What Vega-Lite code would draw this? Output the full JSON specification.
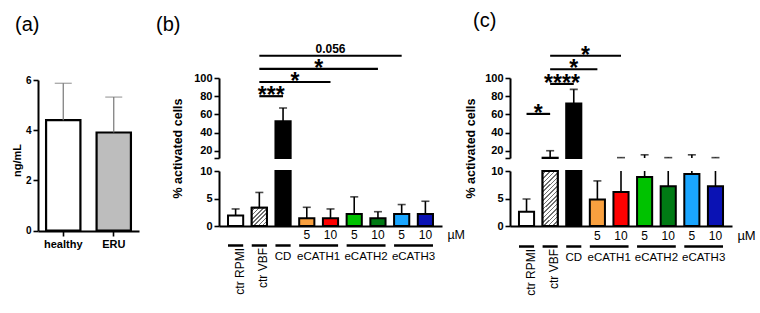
{
  "$schema": "https://vega.github.io/schema/vega-lite/v6.json",
  "background": "white",
  "padding": {"left": 11, "top": 10, "right": 0, "bottom": 0},
  "config": {
    "view": {"stroke": null},
    "font": "Liberation Sans",
    "axis": {"domainColor": "#000", "domainWidth": 2, "tickColor": "#000", "tickWidth": 1.6, "tickSize": 5, "labelColor": "#000", "labelFontWeight": "bold", "labelOverlap": false, "titleColor": "#000", "titleFontWeight": "bold", "grid": false},
    "axisX": {"ticks": false, "labels": false},
    "title": {"fontSize": 20, "fontWeight": "normal", "anchor": "start", "frame": "group", "baseline": "alphabetic", "color": "#000"}
  },
  "resolve": {"scale": {"fill": "independent"}},
  "datasets": {
    "a": [{"grp": "healthy", "mean": 4.4, "err": 5.87}, {"grp": "ERU", "mean": 3.91, "err": 5.32}],
    "b": [
      {"cat": "ctr RPMI", "mean": 1.9, "err": 3.1},
      {"cat": "ctr VBF", "mean": 3.3, "err": 6.1},
      {"cat": "CD", "mean": 52.3, "err": 67},
      {"cat": "eCATH1 5", "mean": 1.4, "err": 3.4},
      {"cat": "eCATH1 10", "mean": 1.4, "err": 3.1},
      {"cat": "eCATH2 5", "mean": 2.2, "err": 5.3},
      {"cat": "eCATH2 10", "mean": 1.4, "err": 2.6},
      {"cat": "eCATH3 5", "mean": 2.2, "err": 3.9},
      {"cat": "eCATH3 10", "mean": 2.2, "err": 4.5}
    ],
    "c": [
      {"cat": "ctr RPMI", "mean": 2.6, "err": 4.9},
      {"cat": "ctr VBF", "mean": 12.3, "err": 20},
      {"cat": "CD", "mean": 72, "err": 87.5},
      {"cat": "eCATH1 5", "mean": 4.8, "err": 8.2},
      {"cat": "eCATH1 10", "mean": 6.2, "err": 12.4},
      {"cat": "eCATH2 5", "mean": 8.9, "err": 15.5},
      {"cat": "eCATH2 10", "mean": 7.25, "err": 12.4},
      {"cat": "eCATH3 5", "mean": 9.45, "err": 15.5},
      {"cat": "eCATH3 10", "mean": 7.25, "err": 12.4}
    ],
    "bb": [
      {"from": "ctr VBF", "to": "CD", "level": 80, "label": "***", "anchor": "ctr VBF", "pos": "half"},
      {"from": "ctr VBF", "to": "eCATH1 10", "level": 95.6, "label": "*", "anchor": "CD", "pos": "half"},
      {"from": "ctr VBF", "to": "eCATH2 10", "level": 110, "label": "*", "anchor": "eCATH1 5", "pos": "half"},
      {"from": "ctr VBF", "to": "eCATH3 5", "level": 124.5, "label": "0.056", "anchor": "eCATH1 10", "pos": "centerp"}
    ],
    "cb": [
      {"from": "ctr RPMI", "to": "ctr VBF", "level": 60.5, "label": "*", "anchor": "ctr RPMI", "pos": "half"},
      {"from": "ctr VBF", "to": "CD", "level": 93.5, "label": "****", "anchor": "ctr VBF", "pos": "half"},
      {"from": "ctr VBF", "to": "eCATH1 5", "level": 109.6, "label": "*", "anchor": "CD", "pos": "centerstar"},
      {"from": "ctr VBF", "to": "eCATH1 10", "level": 124.5, "label": "*", "anchor": "CD", "pos": "half"}
    ],
    "grp": [
      {"first": "ctr RPMI", "last": "ctr RPMI", "name": "ctr RPMI", "kind": "rot"},
      {"first": "ctr VBF", "last": "ctr VBF", "name": "ctr VBF", "kind": "rot"},
      {"first": "CD", "last": "CD", "name": "CD", "kind": "single"},
      {"first": "eCATH1 5", "last": "eCATH1 10", "name": "eCATH1", "kind": "pair"},
      {"first": "eCATH2 5", "last": "eCATH2 10", "name": "eCATH2", "kind": "pair"},
      {"first": "eCATH3 5", "last": "eCATH3 10", "name": "eCATH3", "kind": "pair"}
    ],
    "dose": [
      {"cat": "eCATH1 5", "label": "5"}, {"cat": "eCATH1 10", "label": "10"},
      {"cat": "eCATH2 5", "label": "5"}, {"cat": "eCATH2 10", "label": "10"},
      {"cat": "eCATH3 5", "label": "5"}, {"cat": "eCATH3 10", "label": "10"}
    ],
    "unit": [{"cat": "eCATH3 10", "label": "µM"}]
  },
  "spacing": 68,
  "bounds": "flush",
  "hconcat": [
    {
      "width": 113,
      "height": 183,
      "title": {"text": "(a)", "offset": 8, "dx": -23},
      "data": {"name": "a"},
      "encoding": {
        "x": {"field": "grp", "type": "nominal", "title": null,
          "scale": {"domain": ["healthy", "ERU"], "range": [0, 101], "paddingInner": 0.32, "paddingOuter": 0.16},
          "axis": {"ticks": true, "labels": true, "labelAngle": 0, "labelFontSize": 11, "labelPadding": 2, "offset": 5, "tickSize": 5}}
      },
      "layer": [
        {"mark": {"type": "bar", "stroke": "#000", "strokeWidth": 2.2},
          "encoding": {
            "y": {"field": "mean", "type": "quantitative", "scale": {"domain": [0, 6], "range": [187.7, 37]},
              "axis": {"values": [0, 2, 4, 6], "tickCount": 20, "format": "d", "labelOverlap": false, "title": "ng/mL", "labelFontSize": 10, "labelPadding": 2, "titleFontSize": 11, "titlePadding": 3, "titleY": 117}},
            "fill": {"field": "grp", "type": "nominal", "scale": {"domain": ["healthy", "ERU"], "range": ["#ffffff", "#bdbdbd"]}, "legend": null}
          }},
        {"mark": {"type": "rule", "color": "#777777", "strokeWidth": 1.2},
          "encoding": {"y": {"field": "mean", "type": "quantitative", "scale": {"domain": [0, 6], "range": [187.7, 37]}}, "y2": {"field": "err"}}},
        {"mark": {"type": "tick", "color": "#777777", "thickness": 1.2, "size": 17},
          "encoding": {"y": {"field": "err", "type": "quantitative", "scale": {"domain": [0, 6], "range": [187.7, 37]}}}}
      ]
    },
    {
      "width": 223,
      "height": 183,
      "title": {"text": "(b)", "offset": 8, "dx": -63},
      "resolve": {"scale": {"y": "independent"}, "axis": {"y": "independent"}},
      "layer": [
        {
          "data": {"name": "b"},
          "layer": [
            {"mark": {"type": "bar", "stroke": "#000", "strokeWidth": 2},
              "encoding": {
                "x": {"field": "cat", "type": "nominal", "title": null, "scale": {"domain": ["ctr RPMI", "ctr VBF", "CD", "eCATH1 5", "eCATH1 10", "eCATH2 5", "eCATH2 10", "eCATH3 5", "eCATH3 10"], "paddingInner": 0.36, "paddingOuter": 0.38}},
                "y": {"field": "mean", "type": "quantitative", "scale": {"domain": [0, 10], "range": [183, 128], "clamp": true},
                  "axis": {"orient": "left", "values": [0, 5, 10], "tickCount": 20, "format": "d", "labelOverlap": false, "title": null, "labelFontSize": 11, "labelPadding": 2}},
                "fill": {"field": "cat", "type": "nominal", "scale": {"domain": ["ctr RPMI", "ctr VBF", "CD", "eCATH1 5", "eCATH1 10", "eCATH2 5", "eCATH2 10", "eCATH3 5", "eCATH3 10"], "range": ["#ffffff", "#ffffff", "#000000", "#f9a03f", "#ff0000", "#00c200", "#007a14", "#1aa6ff", "#0a12b4"]}, "legend": null}
              }},
            {"transform": [{"filter": "datum.cat == 'ctr VBF'"}],
              "mark": {"type": "bar", "stroke": "#000", "strokeWidth": 2,
                "fill": {"gradient": "linear", "x1": 0, "y1": 0, "x2": 0.903, "y2": 1.081, "stops": [
                  {"offset": 0, "color": "#ffffff"}, {"offset": 0.0813, "color": "#ffffff"}, {"offset": 0.0813, "color": "#707070"}, {"offset": 0.125, "color": "#707070"},
                  {"offset": 0.125, "color": "#ffffff"}, {"offset": 0.2063, "color": "#ffffff"}, {"offset": 0.2063, "color": "#707070"}, {"offset": 0.25, "color": "#707070"},
                  {"offset": 0.25, "color": "#ffffff"}, {"offset": 0.3313, "color": "#ffffff"}, {"offset": 0.3313, "color": "#707070"}, {"offset": 0.375, "color": "#707070"},
                  {"offset": 0.375, "color": "#ffffff"}, {"offset": 0.4563, "color": "#ffffff"}, {"offset": 0.4563, "color": "#707070"}, {"offset": 0.5, "color": "#707070"},
                  {"offset": 0.5, "color": "#ffffff"}, {"offset": 0.5813, "color": "#ffffff"}, {"offset": 0.5813, "color": "#707070"}, {"offset": 0.625, "color": "#707070"},
                  {"offset": 0.625, "color": "#ffffff"}, {"offset": 0.7063, "color": "#ffffff"}, {"offset": 0.7063, "color": "#707070"}, {"offset": 0.75, "color": "#707070"},
                  {"offset": 0.75, "color": "#ffffff"}, {"offset": 0.8313, "color": "#ffffff"}, {"offset": 0.8313, "color": "#707070"}, {"offset": 0.875, "color": "#707070"},
                  {"offset": 0.875, "color": "#ffffff"}, {"offset": 0.9563, "color": "#ffffff"}, {"offset": 0.9563, "color": "#707070"}, {"offset": 1, "color": "#707070"}]}},
              "encoding": {
                "x": {"field": "cat", "type": "nominal", "title": null, "scale": {"domain": ["ctr RPMI", "ctr VBF", "CD", "eCATH1 5", "eCATH1 10", "eCATH2 5", "eCATH2 10", "eCATH3 5", "eCATH3 10"], "paddingInner": 0.36, "paddingOuter": 0.38}},
                "y": {"field": "mean", "type": "quantitative", "scale": {"domain": [0, 10], "range": [183, 128], "clamp": true}}
              }},
            {"mark": {"type": "rule", "color": "#000", "strokeWidth": 1.6},
              "encoding": {
                "x": {"field": "cat", "type": "nominal", "title": null, "scale": {"domain": ["ctr RPMI", "ctr VBF", "CD", "eCATH1 5", "eCATH1 10", "eCATH2 5", "eCATH2 10", "eCATH3 5", "eCATH3 10"], "paddingInner": 0.36, "paddingOuter": 0.38}},
                "y": {"field": "mean", "type": "quantitative", "scale": {"domain": [0, 10], "range": [183, 128], "clamp": true}},
                "y2": {"field": "err"}
              }},
            {"transform": [{"filter": "datum.err <= 10"}],
              "mark": {"type": "tick", "color": "#000", "thickness": 1.6, "size": 8},
              "encoding": {
                "x": {"field": "cat", "type": "nominal", "title": null, "scale": {"domain": ["ctr RPMI", "ctr VBF", "CD", "eCATH1 5", "eCATH1 10", "eCATH2 5", "eCATH2 10", "eCATH3 5", "eCATH3 10"], "paddingInner": 0.36, "paddingOuter": 0.38}},
                "y": {"field": "err", "type": "quantitative", "scale": {"domain": [0, 10], "range": [183, 128], "clamp": true}}
              }}
          ]
        },
        {
          "layer": [
            {"data": {"name": "b"}, "transform": [{"filter": "datum.mean > 12"}],
              "mark": {"type": "bar", "stroke": "#000", "strokeWidth": 2},
              "encoding": {
                "x": {"field": "cat", "type": "nominal", "title": null, "scale": {"domain": ["ctr RPMI", "ctr VBF", "CD", "eCATH1 5", "eCATH1 10", "eCATH2 5", "eCATH2 10", "eCATH3 5", "eCATH3 10"], "paddingInner": 0.36, "paddingOuter": 0.38}},
                "y": {"field": "mean", "type": "quantitative", "scale": {"domain": [12, 100], "range": [115, 35]},
                  "axis": {"orient": "left", "values": [12, 20, 40, 60, 80, 100], "tickCount": 20, "format": "d", "labelOverlap": false, "labelExpr": "datum.value == 12 ? '' : datum.label", "labelFontSize": 11, "labelPadding": 2, "title": "% activated cells", "titleFontSize": 12.5, "titlePadding": 9, "titleY": 105}},
                "y2": {"datum": 12},
                "fill": {"field": "cat", "type": "nominal", "scale": {"domain": ["ctr RPMI", "ctr VBF", "CD", "eCATH1 5", "eCATH1 10", "eCATH2 5", "eCATH2 10", "eCATH3 5", "eCATH3 10"], "range": ["#ffffff", "#ffffff", "#000000", "#f9a03f", "#ff0000", "#00c200", "#007a14", "#1aa6ff", "#0a12b4"]}, "legend": null}
              }},
            {"data": {"name": "b"}, "transform": [{"filter": "datum.err > 12"}],
              "mark": {"type": "rule", "color": "#000", "strokeWidth": 1.6},
              "encoding": {
                "x": {"field": "cat", "type": "nominal", "title": null, "scale": {"domain": ["ctr RPMI", "ctr VBF", "CD", "eCATH1 5", "eCATH1 10", "eCATH2 5", "eCATH2 10", "eCATH3 5", "eCATH3 10"], "paddingInner": 0.36, "paddingOuter": 0.38}},
                "y": {"field": "err", "type": "quantitative", "scale": {"domain": [12, 100], "range": [115, 35]}},
                "y2": {"datum": 12}
              }},
            {"data": {"name": "b"}, "transform": [{"filter": "datum.err > 12"}],
              "mark": {"type": "tick", "color": "#000", "thickness": 1.6, "size": 8},
              "encoding": {
                "x": {"field": "cat", "type": "nominal", "title": null, "scale": {"domain": ["ctr RPMI", "ctr VBF", "CD", "eCATH1 5", "eCATH1 10", "eCATH2 5", "eCATH2 10", "eCATH3 5", "eCATH3 10"], "paddingInner": 0.36, "paddingOuter": 0.38}},
                "y": {"field": "err", "type": "quantitative", "scale": {"domain": [12, 100], "range": [115, 35]}}
              }},
            {"data": {"name": "bb"},
              "mark": {"type": "rule", "color": "#000", "strokeWidth": 2.2},
              "encoding": {
                "x": {"field": "from", "type": "nominal", "title": null, "scale": {"domain": ["ctr RPMI", "ctr VBF", "CD", "eCATH1 5", "eCATH1 10", "eCATH2 5", "eCATH2 10", "eCATH3 5", "eCATH3 10"], "paddingInner": 0.36, "paddingOuter": 0.38}},
                "x2": {"field": "to"},
                "y": {"field": "level", "type": "quantitative", "scale": {"domain": [12, 100], "range": [115, 35]}}
              }},
            {"data": {"name": "bb"}, "transform": [{"filter": "datum.pos == 'half'"}],
              "mark": {"type": "text", "color": "#000", "fontSize": 23, "fontWeight": "bold", "baseline": "middle", "align": "center"},
              "encoding": {
                "x": {"field": "anchor", "type": "nominal", "title": null, "bandPosition": 1.28125, "scale": {"domain": ["ctr RPMI", "ctr VBF", "CD", "eCATH1 5", "eCATH1 10", "eCATH2 5", "eCATH2 10", "eCATH3 5", "eCATH3 10"], "paddingInner": 0.36, "paddingOuter": 0.38}},
                "y": {"field": "level", "type": "quantitative", "scale": {"domain": [12, 100], "range": [115, 35]}},
                "text": {"field": "label"}
              }},
            {"data": {"name": "bb"}, "transform": [{"filter": "datum.pos == 'centerp'"}],
              "mark": {"type": "text", "color": "#000", "fontSize": 12, "fontWeight": "bold", "baseline": "alphabetic", "align": "center", "dy": -2.5},
              "encoding": {
                "x": {"field": "anchor", "type": "nominal", "title": null, "scale": {"domain": ["ctr RPMI", "ctr VBF", "CD", "eCATH1 5", "eCATH1 10", "eCATH2 5", "eCATH2 10", "eCATH3 5", "eCATH3 10"], "paddingInner": 0.36, "paddingOuter": 0.38}},
                "y": {"field": "level", "type": "quantitative", "scale": {"domain": [12, 100], "range": [115, 35]}},
                "text": {"field": "label"}
              }}
          ]
        },
        {
          "layer": [
            {"data": {"name": "dose"},
              "mark": {"type": "text", "color": "#000", "fontSize": 12, "baseline": "middle", "align": "center"},
              "encoding": {
                "x": {"field": "cat", "type": "nominal", "title": null, "scale": {"domain": ["ctr RPMI", "ctr VBF", "CD", "eCATH1 5", "eCATH1 10", "eCATH2 5", "eCATH2 10", "eCATH3 5", "eCATH3 10"], "paddingInner": 0.36, "paddingOuter": 0.38}},
                "y": {"datum": "dose", "type": "ordinal", "scale": {"type": "point", "domain": ["dose", "line", "group"], "range": [191.5, 213.5], "padding": 0}, "axis": null},
                "text": {"field": "label"}
              }},
            {"data": {"name": "unit"},
              "mark": {"type": "text", "color": "#000", "fontSize": 12.5, "baseline": "middle", "align": "left"},
              "encoding": {
                "x": {"field": "cat", "type": "nominal", "title": null, "bandPosition": 1.95, "scale": {"domain": ["ctr RPMI", "ctr VBF", "CD", "eCATH1 5", "eCATH1 10", "eCATH2 5", "eCATH2 10", "eCATH3 5", "eCATH3 10"], "paddingInner": 0.36, "paddingOuter": 0.38}},
                "y": {"datum": "dose", "type": "ordinal", "scale": {"type": "point", "domain": ["dose", "line", "group"], "range": [191.5, 213.5], "padding": 0}, "axis": null},
                "text": {"field": "label"}
              }},
            {"data": {"name": "grp"},
              "mark": {"type": "rule", "color": "#000", "strokeWidth": 2.5},
              "encoding": {
                "x": {"field": "first", "type": "nominal", "title": null, "bandPosition": 0, "scale": {"domain": ["ctr RPMI", "ctr VBF", "CD", "eCATH1 5", "eCATH1 10", "eCATH2 5", "eCATH2 10", "eCATH3 5", "eCATH3 10"], "paddingInner": 0.36, "paddingOuter": 0.38}},
                "x2": {"field": "last", "bandPosition": 1},
                "y": {"datum": "line", "type": "ordinal", "scale": {"type": "point", "domain": ["dose", "line", "group"], "range": [191.5, 213.5], "padding": 0}, "axis": null}
              }},
            {"data": {"name": "grp"}, "transform": [{"filter": "datum.kind == 'pair'"}],
              "mark": {"type": "text", "color": "#000", "fontSize": 11.5, "baseline": "middle", "align": "center"},
              "encoding": {
                "x": {"field": "first", "type": "nominal", "title": null, "bandPosition": 1.28125, "scale": {"domain": ["ctr RPMI", "ctr VBF", "CD", "eCATH1 5", "eCATH1 10", "eCATH2 5", "eCATH2 10", "eCATH3 5", "eCATH3 10"], "paddingInner": 0.36, "paddingOuter": 0.38}},
                "y": {"datum": "group", "type": "ordinal", "scale": {"type": "point", "domain": ["dose", "line", "group"], "range": [191.5, 213.5], "padding": 0}, "axis": null},
                "text": {"field": "name"}
              }},
            {"data": {"name": "grp"}, "transform": [{"filter": "datum.kind == 'single'"}],
              "mark": {"type": "text", "color": "#000", "fontSize": 11.5, "baseline": "middle", "align": "center"},
              "encoding": {
                "x": {"field": "first", "type": "nominal", "title": null, "scale": {"domain": ["ctr RPMI", "ctr VBF", "CD", "eCATH1 5", "eCATH1 10", "eCATH2 5", "eCATH2 10", "eCATH3 5", "eCATH3 10"], "paddingInner": 0.36, "paddingOuter": 0.38}},
                "y": {"datum": "group", "type": "ordinal", "scale": {"type": "point", "domain": ["dose", "line", "group"], "range": [191.5, 213.5], "padding": 0}, "axis": null},
                "text": {"field": "name"}
              }},
            {"data": {"name": "grp"}, "transform": [{"filter": "datum.kind == 'rot'"}],
              "mark": {"type": "text", "color": "#000", "fontSize": 12, "angle": 270, "baseline": "middle", "align": "right", "dx": -2.5, "dy": 4},
              "encoding": {
                "x": {"field": "first", "type": "nominal", "title": null, "scale": {"domain": ["ctr RPMI", "ctr VBF", "CD", "eCATH1 5", "eCATH1 10", "eCATH2 5", "eCATH2 10", "eCATH3 5", "eCATH3 10"], "paddingInner": 0.36, "paddingOuter": 0.38}},
                "y": {"datum": "line", "type": "ordinal", "scale": {"type": "point", "domain": ["dose", "line", "group"], "range": [191.5, 213.5], "padding": 0}, "axis": null},
                "text": {"field": "name"}
              }}
          ]
        }
      ]
    },
    {
      "width": 222,
      "height": 183,
      "title": {"text": "(c)", "offset": 12.5, "dx": -37},
      "resolve": {"scale": {"y": "independent"}, "axis": {"y": "independent"}},
      "layer": [
        {
          "data": {"name": "c"},
          "layer": [
            {"mark": {"type": "bar", "stroke": "#000", "strokeWidth": 2},
              "encoding": {
                "x": {"field": "cat", "type": "nominal", "title": null, "scale": {"domain": ["ctr RPMI", "ctr VBF", "CD", "eCATH1 5", "eCATH1 10", "eCATH2 5", "eCATH2 10", "eCATH3 5", "eCATH3 10"], "paddingInner": 0.36, "paddingOuter": 0.38}},
                "y": {"field": "mean", "type": "quantitative", "scale": {"domain": [0, 10], "range": [183, 128], "clamp": true},
                  "axis": {"orient": "left", "values": [0, 5, 10], "tickCount": 20, "format": "d", "labelOverlap": false, "title": null, "labelFontSize": 11, "labelPadding": 2}},
                "fill": {"field": "cat", "type": "nominal", "scale": {"domain": ["ctr RPMI", "ctr VBF", "CD", "eCATH1 5", "eCATH1 10", "eCATH2 5", "eCATH2 10", "eCATH3 5", "eCATH3 10"], "range": ["#ffffff", "#ffffff", "#000000", "#f9a03f", "#ff0000", "#00c200", "#007a14", "#1aa6ff", "#0a12b4"]}, "legend": null}
              }},
            {"transform": [{"filter": "datum.cat == 'ctr VBF'"}],
              "mark": {"type": "bar", "stroke": "#000", "strokeWidth": 2,
                "fill": {"gradient": "linear", "x1": 0, "y1": 0, "x2": 0.323, "y2": 1.185, "stops": [
                  {"offset": 0, "color": "#ffffff"}, {"offset": 0.0406, "color": "#ffffff"}, {"offset": 0.0406, "color": "#707070"}, {"offset": 0.0625, "color": "#707070"},
                  {"offset": 0.0625, "color": "#ffffff"}, {"offset": 0.1031, "color": "#ffffff"}, {"offset": 0.1031, "color": "#707070"}, {"offset": 0.125, "color": "#707070"},
                  {"offset": 0.125, "color": "#ffffff"}, {"offset": 0.1656, "color": "#ffffff"}, {"offset": 0.1656, "color": "#707070"}, {"offset": 0.1875, "color": "#707070"},
                  {"offset": 0.1875, "color": "#ffffff"}, {"offset": 0.2281, "color": "#ffffff"}, {"offset": 0.2281, "color": "#707070"}, {"offset": 0.25, "color": "#707070"},
                  {"offset": 0.25, "color": "#ffffff"}, {"offset": 0.2906, "color": "#ffffff"}, {"offset": 0.2906, "color": "#707070"}, {"offset": 0.3125, "color": "#707070"},
                  {"offset": 0.3125, "color": "#ffffff"}, {"offset": 0.3531, "color": "#ffffff"}, {"offset": 0.3531, "color": "#707070"}, {"offset": 0.375, "color": "#707070"},
                  {"offset": 0.375, "color": "#ffffff"}, {"offset": 0.4156, "color": "#ffffff"}, {"offset": 0.4156, "color": "#707070"}, {"offset": 0.4375, "color": "#707070"},
                  {"offset": 0.4375, "color": "#ffffff"}, {"offset": 0.4781, "color": "#ffffff"}, {"offset": 0.4781, "color": "#707070"}, {"offset": 0.5, "color": "#707070"},
                  {"offset": 0.5, "color": "#ffffff"}, {"offset": 0.5406, "color": "#ffffff"}, {"offset": 0.5406, "color": "#707070"}, {"offset": 0.5625, "color": "#707070"},
                  {"offset": 0.5625, "color": "#ffffff"}, {"offset": 0.6031, "color": "#ffffff"}, {"offset": 0.6031, "color": "#707070"}, {"offset": 0.625, "color": "#707070"},
                  {"offset": 0.625, "color": "#ffffff"}, {"offset": 0.6656, "color": "#ffffff"}, {"offset": 0.6656, "color": "#707070"}, {"offset": 0.6875, "color": "#707070"},
                  {"offset": 0.6875, "color": "#ffffff"}, {"offset": 0.7281, "color": "#ffffff"}, {"offset": 0.7281, "color": "#707070"}, {"offset": 0.75, "color": "#707070"},
                  {"offset": 0.75, "color": "#ffffff"}, {"offset": 0.7906, "color": "#ffffff"}, {"offset": 0.7906, "color": "#707070"}, {"offset": 0.8125, "color": "#707070"},
                  {"offset": 0.8125, "color": "#ffffff"}, {"offset": 0.8531, "color": "#ffffff"}, {"offset": 0.8531, "color": "#707070"}, {"offset": 0.875, "color": "#707070"},
                  {"offset": 0.875, "color": "#ffffff"}, {"offset": 0.9156, "color": "#ffffff"}, {"offset": 0.9156, "color": "#707070"}, {"offset": 0.9375, "color": "#707070"},
                  {"offset": 0.9375, "color": "#ffffff"}, {"offset": 0.9781, "color": "#ffffff"}, {"offset": 0.9781, "color": "#707070"}, {"offset": 1, "color": "#707070"}]}},
              "encoding": {
                "x": {"field": "cat", "type": "nominal", "title": null, "scale": {"domain": ["ctr RPMI", "ctr VBF", "CD", "eCATH1 5", "eCATH1 10", "eCATH2 5", "eCATH2 10", "eCATH3 5", "eCATH3 10"], "paddingInner": 0.36, "paddingOuter": 0.38}},
                "y": {"field": "mean", "type": "quantitative", "scale": {"domain": [0, 10], "range": [183, 128], "clamp": true}}
              }},
            {"mark": {"type": "rule", "color": "#000", "strokeWidth": 1.6},
              "encoding": {
                "x": {"field": "cat", "type": "nominal", "title": null, "scale": {"domain": ["ctr RPMI", "ctr VBF", "CD", "eCATH1 5", "eCATH1 10", "eCATH2 5", "eCATH2 10", "eCATH3 5", "eCATH3 10"], "paddingInner": 0.36, "paddingOuter": 0.38}},
                "y": {"field": "mean", "type": "quantitative", "scale": {"domain": [0, 10], "range": [183, 128], "clamp": true}},
                "y2": {"field": "err"}
              }},
            {"transform": [{"filter": "datum.err <= 10"}],
              "mark": {"type": "tick", "color": "#000", "thickness": 1.6, "size": 8},
              "encoding": {
                "x": {"field": "cat", "type": "nominal", "title": null, "scale": {"domain": ["ctr RPMI", "ctr VBF", "CD", "eCATH1 5", "eCATH1 10", "eCATH2 5", "eCATH2 10", "eCATH3 5", "eCATH3 10"], "paddingInner": 0.36, "paddingOuter": 0.38}},
                "y": {"field": "err", "type": "quantitative", "scale": {"domain": [0, 10], "range": [183, 128], "clamp": true}}
              }}
          ]
        },
        {
          "layer": [
            {"data": {"name": "c"}, "transform": [{"filter": "datum.mean > 12"}],
              "mark": {"type": "bar", "stroke": "#000", "strokeWidth": 2},
              "encoding": {
                "x": {"field": "cat", "type": "nominal", "title": null, "scale": {"domain": ["ctr RPMI", "ctr VBF", "CD", "eCATH1 5", "eCATH1 10", "eCATH2 5", "eCATH2 10", "eCATH3 5", "eCATH3 10"], "paddingInner": 0.36, "paddingOuter": 0.38}},
                "y": {"field": "mean", "type": "quantitative", "scale": {"domain": [12, 100], "range": [115, 35]},
                  "axis": {"orient": "left", "values": [12, 20, 40, 60, 80, 100], "tickCount": 20, "format": "d", "labelOverlap": false, "labelExpr": "datum.value == 12 ? '' : datum.label", "labelFontSize": 11, "labelPadding": 2, "title": "% activated cells", "titleFontSize": 12.5, "titlePadding": 7, "titleY": 105}},
                "y2": {"datum": 12},
                "fill": {"field": "cat", "type": "nominal", "scale": {"domain": ["ctr RPMI", "ctr VBF", "CD", "eCATH1 5", "eCATH1 10", "eCATH2 5", "eCATH2 10", "eCATH3 5", "eCATH3 10"], "range": ["#ffffff", "#ffffff", "#000000", "#f9a03f", "#ff0000", "#00c200", "#007a14", "#1aa6ff", "#0a12b4"]}, "legend": null}
              }},
            {"data": {"name": "c"}, "transform": [{"filter": "datum.err > 12"}],
              "mark": {"type": "rule", "color": "#000", "strokeWidth": 1.6},
              "encoding": {
                "x": {"field": "cat", "type": "nominal", "title": null, "scale": {"domain": ["ctr RPMI", "ctr VBF", "CD", "eCATH1 5", "eCATH1 10", "eCATH2 5", "eCATH2 10", "eCATH3 5", "eCATH3 10"], "paddingInner": 0.36, "paddingOuter": 0.38}},
                "y": {"field": "err", "type": "quantitative", "scale": {"domain": [12, 100], "range": [115, 35]}},
                "y2": {"datum": 12}
              }},
            {"data": {"name": "c"}, "transform": [{"filter": "datum.err > 12"}],
              "mark": {"type": "tick", "color": "#000", "thickness": 1.6, "size": 8},
              "encoding": {
                "x": {"field": "cat", "type": "nominal", "title": null, "scale": {"domain": ["ctr RPMI", "ctr VBF", "CD", "eCATH1 5", "eCATH1 10", "eCATH2 5", "eCATH2 10", "eCATH3 5", "eCATH3 10"], "paddingInner": 0.36, "paddingOuter": 0.38}},
                "y": {"field": "err", "type": "quantitative", "scale": {"domain": [12, 100], "range": [115, 35]}}
              }},
            {"data": {"name": "cb"},
              "mark": {"type": "rule", "color": "#000", "strokeWidth": 2.2},
              "encoding": {
                "x": {"field": "from", "type": "nominal", "title": null, "scale": {"domain": ["ctr RPMI", "ctr VBF", "CD", "eCATH1 5", "eCATH1 10", "eCATH2 5", "eCATH2 10", "eCATH3 5", "eCATH3 10"], "paddingInner": 0.36, "paddingOuter": 0.38}},
                "x2": {"field": "to"},
                "y": {"field": "level", "type": "quantitative", "scale": {"domain": [12, 100], "range": [115, 35]}}
              }},
            {"data": {"name": "cb"}, "transform": [{"filter": "datum.pos == 'half'"}],
              "mark": {"type": "text", "color": "#000", "fontSize": 23, "fontWeight": "bold", "baseline": "middle", "align": "center"},
              "encoding": {
                "x": {"field": "anchor", "type": "nominal", "title": null, "bandPosition": 1.28125, "scale": {"domain": ["ctr RPMI", "ctr VBF", "CD", "eCATH1 5", "eCATH1 10", "eCATH2 5", "eCATH2 10", "eCATH3 5", "eCATH3 10"], "paddingInner": 0.36, "paddingOuter": 0.38}},
                "y": {"field": "level", "type": "quantitative", "scale": {"domain": [12, 100], "range": [115, 35]}},
                "text": {"field": "label"}
              }},
            {"data": {"name": "cb"}, "transform": [{"filter": "datum.pos == 'centerstar'"}],
              "mark": {"type": "text", "color": "#000", "fontSize": 23, "fontWeight": "bold", "baseline": "middle", "align": "center"},
              "encoding": {
                "x": {"field": "anchor", "type": "nominal", "title": null, "scale": {"domain": ["ctr RPMI", "ctr VBF", "CD", "eCATH1 5", "eCATH1 10", "eCATH2 5", "eCATH2 10", "eCATH3 5", "eCATH3 10"], "paddingInner": 0.36, "paddingOuter": 0.38}},
                "y": {"field": "level", "type": "quantitative", "scale": {"domain": [12, 100], "range": [115, 35]}},
                "text": {"field": "label"}
              }}
          ]
        },
        {
          "layer": [
            {"data": {"name": "dose"},
              "mark": {"type": "text", "color": "#000", "fontSize": 12, "baseline": "middle", "align": "center"},
              "encoding": {
                "x": {"field": "cat", "type": "nominal", "title": null, "scale": {"domain": ["ctr RPMI", "ctr VBF", "CD", "eCATH1 5", "eCATH1 10", "eCATH2 5", "eCATH2 10", "eCATH3 5", "eCATH3 10"], "paddingInner": 0.36, "paddingOuter": 0.38}},
                "y": {"datum": "dose", "type": "ordinal", "scale": {"type": "point", "domain": ["dose", "line", "group"], "range": [192.5, 214.5], "padding": 0}, "axis": null},
                "text": {"field": "label"}
              }},
            {"data": {"name": "unit"},
              "mark": {"type": "text", "color": "#000", "fontSize": 13, "baseline": "middle", "align": "left"},
              "encoding": {
                "x": {"field": "cat", "type": "nominal", "title": null, "bandPosition": 1.95, "scale": {"domain": ["ctr RPMI", "ctr VBF", "CD", "eCATH1 5", "eCATH1 10", "eCATH2 5", "eCATH2 10", "eCATH3 5", "eCATH3 10"], "paddingInner": 0.36, "paddingOuter": 0.38}},
                "y": {"datum": "dose", "type": "ordinal", "scale": {"type": "point", "domain": ["dose", "line", "group"], "range": [192.5, 214.5], "padding": 0}, "axis": null},
                "text": {"field": "label"}
              }},
            {"data": {"name": "grp"},
              "mark": {"type": "rule", "color": "#000", "strokeWidth": 2.5},
              "encoding": {
                "x": {"field": "first", "type": "nominal", "title": null, "bandPosition": 0, "scale": {"domain": ["ctr RPMI", "ctr VBF", "CD", "eCATH1 5", "eCATH1 10", "eCATH2 5", "eCATH2 10", "eCATH3 5", "eCATH3 10"], "paddingInner": 0.36, "paddingOuter": 0.38}},
                "x2": {"field": "last", "bandPosition": 1},
                "y": {"datum": "line", "type": "ordinal", "scale": {"type": "point", "domain": ["dose", "line", "group"], "range": [192.5, 214.5], "padding": 0}, "axis": null}
              }},
            {"data": {"name": "grp"}, "transform": [{"filter": "datum.kind == 'pair'"}],
              "mark": {"type": "text", "color": "#000", "fontSize": 11.5, "baseline": "middle", "align": "center"},
              "encoding": {
                "x": {"field": "first", "type": "nominal", "title": null, "bandPosition": 1.28125, "scale": {"domain": ["ctr RPMI", "ctr VBF", "CD", "eCATH1 5", "eCATH1 10", "eCATH2 5", "eCATH2 10", "eCATH3 5", "eCATH3 10"], "paddingInner": 0.36, "paddingOuter": 0.38}},
                "y": {"datum": "group", "type": "ordinal", "scale": {"type": "point", "domain": ["dose", "line", "group"], "range": [192.5, 214.5], "padding": 0}, "axis": null},
                "text": {"field": "name"}
              }},
            {"data": {"name": "grp"}, "transform": [{"filter": "datum.kind == 'single'"}],
              "mark": {"type": "text", "color": "#000", "fontSize": 11.5, "baseline": "middle", "align": "center"},
              "encoding": {
                "x": {"field": "first", "type": "nominal", "title": null, "scale": {"domain": ["ctr RPMI", "ctr VBF", "CD", "eCATH1 5", "eCATH1 10", "eCATH2 5", "eCATH2 10", "eCATH3 5", "eCATH3 10"], "paddingInner": 0.36, "paddingOuter": 0.38}},
                "y": {"datum": "group", "type": "ordinal", "scale": {"type": "point", "domain": ["dose", "line", "group"], "range": [192.5, 214.5], "padding": 0}, "axis": null},
                "text": {"field": "name"}
              }},
            {"data": {"name": "grp"}, "transform": [{"filter": "datum.kind == 'rot'"}],
              "mark": {"type": "text", "color": "#000", "fontSize": 12, "angle": 270, "baseline": "middle", "align": "right", "dx": -2.5, "dy": 4},
              "encoding": {
                "x": {"field": "first", "type": "nominal", "title": null, "scale": {"domain": ["ctr RPMI", "ctr VBF", "CD", "eCATH1 5", "eCATH1 10", "eCATH2 5", "eCATH2 10", "eCATH3 5", "eCATH3 10"], "paddingInner": 0.36, "paddingOuter": 0.38}},
                "y": {"datum": "line", "type": "ordinal", "scale": {"type": "point", "domain": ["dose", "line", "group"], "range": [192.5, 214.5], "padding": 0}, "axis": null},
                "text": {"field": "name"}
              }}
          ]
        }
      ]
    }
  ]
}
